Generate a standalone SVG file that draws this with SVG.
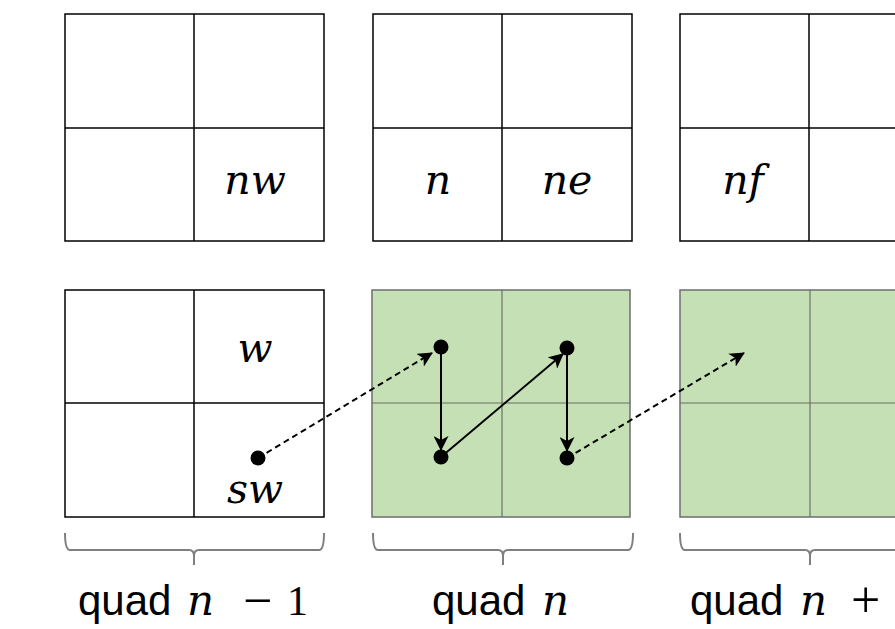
<svg xmlns="http://www.w3.org/2000/svg" width="895" height="629" viewBox="0 0 895 629">
<style>
.wb{fill:#fff;stroke:#000;stroke-width:1.5}
.wl{stroke:#000;stroke-width:1.5}
.gb{fill:#c5e0b4;stroke:#6d6d6d;stroke-width:1.5}
.gl{stroke:#6d6d6d;stroke-width:1.2}
.m{font-family:"DejaVu Serif",serif;font-style:italic;font-size:41px;fill:#000;text-anchor:middle}
.q{font-family:"Liberation Sans",Arial,sans-serif;font-size:42px;fill:#000}
.qi{font-family:"DejaVu Serif",serif;font-style:italic;font-size:42px}
.qm{font-family:"Liberation Serif",serif;font-size:42px}
.qo{font-family:"Liberation Serif",serif;font-size:52px}
.br{fill:none;stroke:#7f7f7f;stroke-width:2}
.dot{fill:#000}
.sol{stroke:#000;stroke-width:2;fill:none}
.dsh{stroke:#000;stroke-width:2;fill:none;stroke-dasharray:6,4}
</style>
<defs>
<marker id="ah2" markerWidth="15" markerHeight="15" refX="14" refY="7.5" orient="auto" markerUnits="userSpaceOnUse" viewBox="0 0 15 15">
<path d="M0,0 L15,7.5 L0,15 L4,7.5 Z" fill="#000"/>
</marker>
</defs>

<g id="top-quad-n-1">
<rect class="wb" x="65" y="14" width="259" height="227"/>
<line class="wl" x1="194" y1="14" x2="194" y2="241"/>
<line class="wl" x1="65" y1="128" x2="324" y2="128"/>
<text class="m" x="255" y="194">nw</text>
</g>
<g id="top-quad-n">
<rect class="wb" x="373" y="14" width="259" height="227"/>
<line class="wl" x1="502" y1="14" x2="502" y2="241"/>
<line class="wl" x1="373" y1="128" x2="632" y2="128"/>
<text class="m" x="438" y="194">n</text>
<text class="m" x="567" y="194">ne</text>
</g>
<g id="top-quad-n1">
<rect class="wb" x="680" y="14" width="259" height="227"/>
<line class="wl" x1="809" y1="14" x2="809" y2="241"/>
<line class="wl" x1="680" y1="128" x2="939" y2="128"/>
<text class="m" x="743" y="194">nf</text>
</g>

<g id="bot-quad-n-1">
<rect class="wb" x="65" y="290" width="259" height="227"/>
<line class="wl" x1="194" y1="290" x2="194" y2="517"/>
<line class="wl" x1="65" y1="403" x2="324" y2="403"/>
<text class="m" x="255" y="362">w</text>
<text class="m" x="255" y="503">sw</text>
</g>
<g id="bot-quad-n">
<rect class="gb" x="372" y="290" width="258" height="227"/>
<line class="gl" x1="502" y1="290" x2="502" y2="517"/>
<line class="gl" x1="372" y1="403" x2="630" y2="403"/>
</g>
<g id="bot-quad-n1">
<rect class="gb" x="680" y="290" width="259" height="227"/>
<line class="gl" x1="810" y1="290" x2="810" y2="517"/>
<line class="gl" x1="680" y1="403" x2="939" y2="403"/>
</g>

<g id="connectors">
<line class="dsh" x1="258" y1="458" x2="432" y2="353" marker-end="url(#ah2)"/>
<line class="sol" x1="441" y1="348" x2="441" y2="450" marker-end="url(#ah2)"/>
<line class="sol" x1="441" y1="457" x2="563" y2="354" marker-end="url(#ah2)"/>
<line class="sol" x1="567" y1="348" x2="567" y2="451" marker-end="url(#ah2)"/>
<line class="dsh" x1="567" y1="458" x2="744" y2="353" marker-end="url(#ah2)"/>
</g>
<g id="dots">
<circle class="dot" cx="258" cy="458" r="7.5"/>
<circle class="dot" cx="441" cy="347" r="7.5"/>
<circle class="dot" cx="441" cy="457" r="7.5"/>
<circle class="dot" cx="567" cy="348" r="7.5"/>
<circle class="dot" cx="567" cy="458" r="7.5"/>
</g>

<g id="braces">
<path class="br" d="M65,533 Q65,550 70,550 L189,550 Q194,550 194,556 L194,565 M194,556 Q194,550 199,550 L319,550 Q324,550 324,533"/>
<path class="br" d="M373,533 Q373,550 378,550 L498,550 Q503,550 503,556 L503,565 M503,556 Q503,550 508,550 L628,550 Q633,550 633,533"/>
<path class="br" d="M680,533 Q680,550 685,550 L805,550 Q810,550 810,556 L810,565 M810,556 Q810,550 815,550 L935,550 Q940,550 940,533"/>
</g>
<g id="labels">
<text class="q" y="615"><tspan x="78">quad</tspan><tspan class="qi" x="187">n</tspan><tspan class="qo" x="243" dy="3">−</tspan><tspan class="qm" x="287" dy="-3">1</tspan></text>
<text class="q" y="615"><tspan x="432">quad</tspan><tspan class="qi" x="542">n</tspan></text>
<text class="q" y="615"><tspan x="690">quad</tspan><tspan class="qi" x="800">n</tspan><tspan class="qo" x="851" dy="2">+</tspan></text>
</g>
</svg>
